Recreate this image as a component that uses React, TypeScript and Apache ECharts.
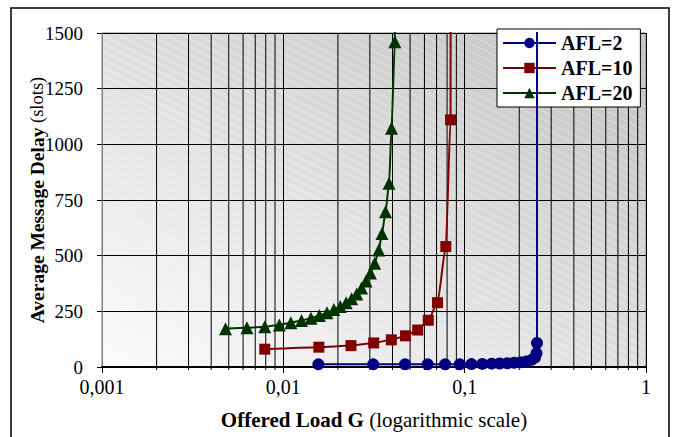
import React, { useEffect, useRef } from "react";
import * as echarts from "echarts";

// Offered load G and average message delay (slots)
const afl2Load = [0.0156, 0.0313, 0.0469, 0.0625, 0.078, 0.094, 0.109, 0.125, 0.141, 0.156, 0.172, 0.1875, 0.203, 0.219, 0.234, 0.244, 0.249, 0.2505];
const afl2Delay = [12, 12, 12, 12, 12, 12, 13, 14, 15, 16, 17, 19, 21, 25, 32, 42, 62, 108];
const afl2Asymptote = 0.2508;

const afl10Load = [0.0079, 0.0157, 0.0236, 0.0315, 0.0394, 0.0472, 0.0551, 0.063, 0.0708, 0.0787, 0.0836];
const afl10Delay = [80, 89, 96, 108, 122, 140, 166, 210, 289, 541, 1110];
const afl10Asymptote = 0.0839;

const afl20Load = [0.0048, 0.0063, 0.0079, 0.0095, 0.011, 0.0126, 0.0142, 0.0158, 0.0174, 0.019, 0.0206, 0.0222, 0.0238, 0.0254, 0.027, 0.0286, 0.0302, 0.0319, 0.0336, 0.035, 0.0366, 0.0383, 0.0395, 0.0412];
const afl20Delay = [172, 176, 181, 189, 199, 209, 219, 231, 244, 258, 272, 288, 306, 328, 355, 386, 422, 466, 525, 600, 697, 825, 1072, 1461];
const afl20Asymptote = 0.0414;

const seriesNames = ["AFL=2", "AFL=10", "AFL=20"];

// minor (non-decade) vertical grid positions of the log axis
const minorGridValues = [
  0.002, 0.003, 0.004, 0.005, 0.006, 0.007, 0.008, 0.009,
  0.02, 0.03, 0.04, 0.05, 0.06, 0.07, 0.08, 0.09,
  0.2, 0.3, 0.4, 0.5, 0.6, 0.7, 0.8, 0.9,
];

const FONT = "Liberation Serif";

function buildData(loads: number[], delays: number[], asym: number) {
  const d: any[] = loads.map((x, i) => [x, delays[i]]);
  d.push({ value: [asym, 3000], symbol: "none", symbolSize: 0 });
  return d;
}

function makeHatch(): any {
  const c = document.createElement("canvas");
  c.width = 16;
  c.height = 8;
  const ctx = c.getContext("2d");
  if (ctx) {
    ctx.strokeStyle = "rgba(255,255,255,0.35)";
    ctx.lineWidth = 1;
    ctx.beginPath();
    ctx.moveTo(0, 0);
    ctx.lineTo(16, 8);
    ctx.stroke();
  }
  return { image: c.toDataURL(), repeat: "repeat" };
}

export default function App() {
  const ref = useRef<HTMLDivElement>(null);
  useEffect(() => {
    document.body.style.margin = "0";
    const chart = echarts.init(ref.current!, null, { renderer: "svg" });
    const lineSeries = (name: string, color: string, symbol: string, size: number, data: any[]) => ({
      name,
      type: "line",
      data,
      symbol,
      symbolSize: size,
      smooth: 0.2,
      smoothMonotone: "x",
      z: 5,
      itemStyle: { color },
      lineStyle: { color, width: 2 },
    });
    const option: any = {
      animation: false,
      graphic: [
        {
          type: "rect",
          shape: { x: 11, y: 8, width: 658, height: 440 },
          style: { fill: "none", stroke: "#000", lineWidth: 1.5 },
          z: 0,
        },
        {
          type: "rect",
          silent: true,
          shape: { x: 102, y: 33, width: 544, height: 334 },
          style: { fill: makeHatch() },
          z: 0,
        },
      ],
      grid: {
        left: 102,
        right: 28,
        top: 33,
        bottom: 70,
        show: true,
        borderColor: "#808080",
        borderWidth: 1,
        backgroundColor: new echarts.graphic.LinearGradient(0, 1, 1, 0, [
          { offset: 0, color: "#fbfbfb" },
          { offset: 1, color: "#c2c2c2" },
        ]),
      },
      legend: {
        data: seriesNames,
        orient: "vertical",
        left: 497,
        top: 29,
        padding: [4, 8, 4, 5],
        itemGap: 5,
        itemWidth: 53,
        itemHeight: 13,
        backgroundColor: "#fff",
        borderColor: "#000",
        borderWidth: 1,
        textStyle: { fontFamily: FONT, fontSize: 20, fontWeight: "bold", color: "#000" },
      },
      xAxis: {
        type: "log",
        logBase: 10,
        min: 0.001,
        max: 1,
        name: "{xb|Offered Load G}{xn| (logarithmic scale)}",
        nameLocation: "middle",
        nameGap: 42,
        nameMoveOverlap: false,
        nameTextStyle: {
          fontFamily: FONT,
          fontSize: 21,
          color: "#000",
          rich: {
            xb: { fontFamily: FONT, fontSize: 21, fontWeight: "bold", color: "#000" },
            xn: { fontFamily: FONT, fontSize: 21, fontWeight: "normal", color: "#000" },
          },
        },
        axisLine: { show: true, lineStyle: { color: "#000", width: 2 } },
        axisTick: { show: true, length: 6, lineStyle: { color: "#000" } },
        minorTick: { show: false },
        splitLine: { show: true, lineStyle: { color: "#000", width: 1 } },
        axisLabel: {
          margin: 10,
          fontFamily: FONT,
          fontSize: 20,
          color: "#000",
          formatter: (v: number) => String(Number(v.toPrecision(3))).replace(".", ","),
        },
      },
      yAxis: {
        type: "value",
        min: 0,
        max: 1500,
        interval: 250,
        name: "{yb|Average Message Delay}{yn| (slots)}",
        nameLocation: "middle",
        nameGap: 55,
        nameMoveOverlap: false,
        nameTextStyle: {
          fontFamily: FONT,
          fontSize: 19,
          color: "#000",
          rich: {
            yb: { fontFamily: FONT, fontSize: 19.5, fontWeight: "bold", color: "#000" },
            yn: { fontFamily: FONT, fontSize: 18.5, fontWeight: "normal", color: "#000" },
          },
        },
        axisLine: { show: true, lineStyle: { color: "#808080", width: 1 } },
        axisTick: { show: true, length: 5, lineStyle: { color: "#000" } },
        splitLine: { show: true, lineStyle: { color: "#000", width: 1 } },
        axisLabel: {
          margin: 19,
          fontFamily: FONT,
          fontSize: 19,
          color: "#000",
          formatter: (v: number) => String(v),
        },
      },
      series: [
        {
          name: "minorGrid",
          type: "custom",
          z: 1,
          silent: true,
          data: minorGridValues.map((v) => [v, 0]),
          encode: { x: 0, y: 1 },
          renderItem: (params: any, api: any) => {
            const x = api.value(0);
            const p0 = api.coord([x, 0]);
            const p1 = api.coord([x, 1500]);
            return {
              type: "group",
              children: [
                { type: "line", shape: { x1: p0[0], y1: p0[1], x2: p1[0], y2: p1[1] }, style: { stroke: "#000", lineWidth: 1 } },
                { type: "line", shape: { x1: p0[0], y1: p0[1], x2: p0[0], y2: p0[1] + 3 }, style: { stroke: "#000", lineWidth: 1 } },
              ],
            };
          },
        },
        lineSeries(seriesNames[0], "#000080", "circle", 12, buildData(afl2Load, afl2Delay, afl2Asymptote)),
        lineSeries(seriesNames[1], "#800000", "rect", 11, buildData(afl10Load, afl10Delay, afl10Asymptote)),
        lineSeries(seriesNames[2], "#003300", "triangle", 13, buildData(afl20Load, afl20Delay, afl20Asymptote)),
      ],
    };
    chart.setOption(option);
    return () => chart.dispose();
  }, []);
  return <div ref={ref} style={{ width: 674, height: 437 }} />;
}
